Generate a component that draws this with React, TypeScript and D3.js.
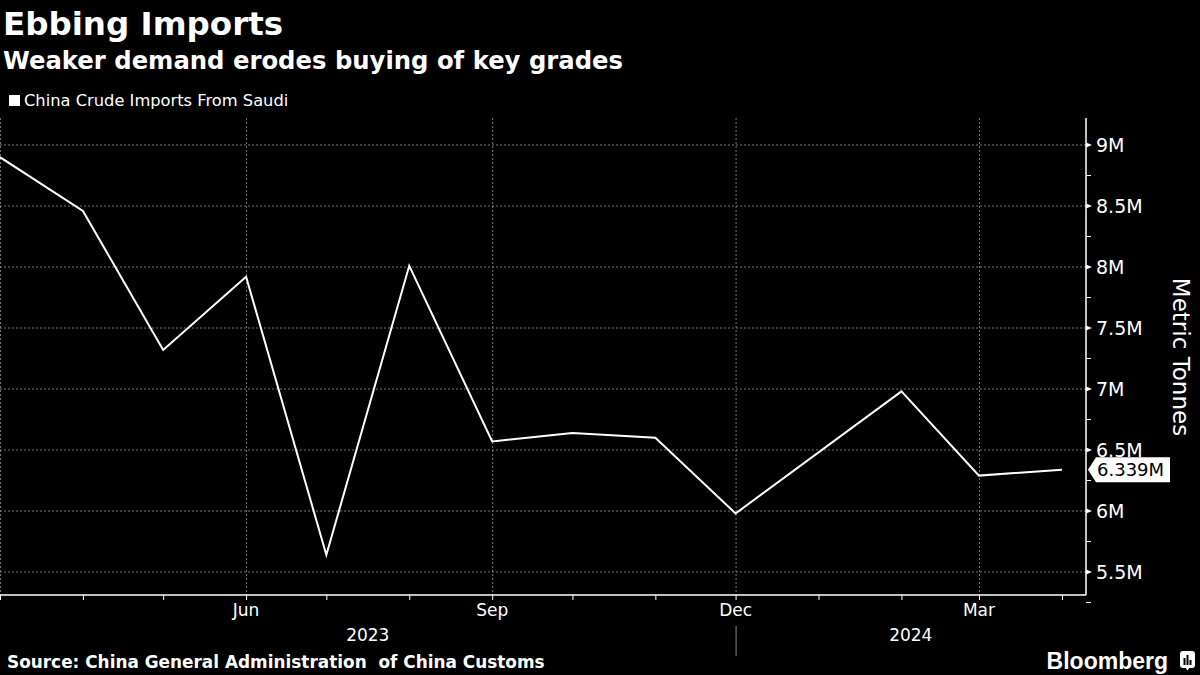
import * as d3 from "d3";
import { useEffect, useRef } from "react";

// China crude imports from Saudi Arabia, metric tonnes (Jan 2024 reported combined with Feb)
const months: string[] = [
  "2023-03", "2023-04", "2023-05", "2023-06", "2023-07", "2023-08", "2023-09",
  "2023-10", "2023-11", "2023-12", "2024-02", "2024-03", "2024-04"
];
const imports: number[] = [
  8.90e6, 8.46e6, 7.32e6, 7.92e6, 5.64e6, 8.01e6, 6.57e6,
  6.64e6, 6.60e6, 5.98e6, 6.98e6, 6.29e6, 6.339e6
];
const yTicks: number[] = [5.5e6, 6e6, 6.5e6, 7e6, 7.5e6, 8e6, 8.5e6, 9e6];
const quarterTicks: string[] = ["2023-03", "2023-06", "2023-09", "2023-12", "2024-03"];
const monthLabels: string[] = ["Jun", "Sep", "Dec", "Mar"];
const years: string[] = ["2023", "2024"];

const FONT = "'DejaVu Sans', sans-serif";

export default function App({
  width = 1200,
  height = 675,
  plotLeft = 0,
  plotRight = 1086,
  plotTop = 118,
  plotBottom = 595
}: {
  width?: number,
  height?: number,
  plotLeft?: number,
  plotRight?: number,
  plotTop?: number,
  plotBottom?: number
}) {
  const lineRef: any = useRef();

  const parse = d3.utcParse("%Y-%m");
  const data = months.map((m, i) => ({ date: parse(m) as Date, value: imports[i] }));

  const x: any = d3.scaleUtc(
    [new Date(Date.UTC(2023, 2, 1)), new Date(Date.UTC(2024, 3, 10))],
    [plotLeft, plotRight]);

  const y: any = d3.scaleLinear([5.5e6, 9e6], [572, 145]);

  const line = d3.line<any>()
    .x(d => x(d.date))
    .y(d => y(d.value));

  const monthTicks = d3.utcMonth.range(new Date(Date.UTC(2023, 2, 1)), new Date(Date.UTC(2024, 3, 2)));
  const minorY = d3.range(5.25e6, 9.01e6, 0.5e6);
  const last = data[data.length - 1];

  useEffect(() => {
    void d3.select(lineRef.current)
      .attr("d", line(data))
  }, [data, line])

  const fmt = (v: number) => `${d3.format("~g")(v / 1e6)}M`;
  const yearSplit = x(parse("2023-12"));
  const yearCenters = [(plotLeft + yearSplit) / 2, (yearSplit + plotRight) / 2];

  return (
    <svg width={width} height={height}
      style={{ position: "absolute", left: 0, top: 0, background: "#000" }}
      fontFamily={FONT}>
      <rect width={width} height={height} fill="#000" />

      <text x={3} y={35} fill="#fff" fontSize={32.5} fontWeight="bold">Ebbing Imports</text>
      <text x={3} y={69} fill="#fff" fontSize={24.3} fontWeight="bold">Weaker demand erodes buying of key grades</text>

      <rect x={9} y={95} width={11} height={11} fill="#fff" />
      <text x={24} y={106} fill="#fff" fontSize={16.3}>China Crude Imports From Saudi</text>

      {/* grid */}
      <g stroke="#777" strokeWidth={1} strokeDasharray="2,2">
        {yTicks.map(t => (
          <line key={t} x1={plotLeft} x2={plotRight} y1={y(t)} y2={y(t)} />
        ))}
        {quarterTicks.map(q => (
          <line key={q} x1={x(parse(q)) + 0.5} x2={x(parse(q)) + 0.5} y1={plotTop} y2={plotBottom} />
        ))}
      </g>

      {/* axes */}
      <g stroke="#fff" strokeWidth={1.5}>
        <line x1={plotLeft} x2={plotRight} y1={plotBottom} y2={plotBottom} />
        <line x1={plotRight} x2={plotRight} y1={plotTop} y2={plotBottom} />
        {monthTicks.map((m, i) => (
          <line key={i} x1={x(m) + 0.5} x2={x(m) + 0.5} y1={plotBottom} y2={plotBottom + 5} strokeWidth={1} />
        ))}
        {minorY.map(t => (
          <line key={t} x1={plotRight} x2={plotRight + 5} y1={y(t)} y2={y(t)} strokeWidth={1} />
        ))}
      </g>
      <g fill="#fff">
        {yTicks.map(t => (
          <path key={t} d={`M${plotRight},${y(t) - 2.5}L${plotRight + 6},${y(t)}L${plotRight},${y(t) + 2.5}Z`} />
        ))}
      </g>
      <g fill="#fff" fontSize={19}>
        {yTicks.map(t => (
          <text key={t} x={plotRight + 10} y={y(t)} dy="0.36em">{fmt(t)}</text>
        ))}
      </g>
      <text transform={`translate(1173, 357) rotate(90)`} fill="#fff" fontSize={23} textAnchor="middle">Metric Tonnes</text>

      <g fill="#fff" fontSize={17} textAnchor="middle">
        {quarterTicks.slice(1).map((q, i) => (
          <text key={q} x={x(parse(q))} y={616}>{monthLabels[i]}</text>
        ))}
        {years.map((yr, i) => (
          <text key={yr} x={yearCenters[i]} y={641}>{yr}</text>
        ))}
      </g>
      <line x1={yearSplit + 0.5} x2={yearSplit + 0.5} y1={626} y2={656} stroke="#888" strokeWidth={1} />

      {/* series */}
      <path ref={lineRef} fill="none" stroke="#fff" strokeWidth={2} strokeLinejoin="miter" />

      {/* last value tag */}
      <g transform={`translate(${plotRight + 2}, ${y(last.value)})`}>
        <path d="M0,0L8,-12.5L82,-12.5L82,12.5L8,12.5Z" fill="#fff" />
        <text x={9} y={0} dy="0.36em" fill="#000" fontSize={18}>{d3.format(".4")(last.value / 1e6)}M</text>
      </g>

      <text x={7} y={668} fill="#fff" fontSize={16.9} fontWeight="bold" style={{ whiteSpace: "pre" }}>Source: China General Administration  of China Customs</text>

      <text x={1168} y={669} fill="#fff" fontSize={23} fontWeight="bold" textAnchor="end" fontFamily="'Liberation Sans', Arial, sans-serif">Bloomberg</text>
      <g transform="translate(1180, 651)">
        <rect width={15} height={17} rx={3} fill="#fff" />
        <path d="M5,16L7.5,19.5L10,16Z" fill="#fff" />
        <rect x={3.5} y={7} width={2} height={7} fill="#000" />
        <rect x={6.5} y={4} width={2} height={10} fill="#000" />
        <rect x={9.5} y={9} width={2} height={5} fill="#000" />
      </g>
    </svg>
  )
}
